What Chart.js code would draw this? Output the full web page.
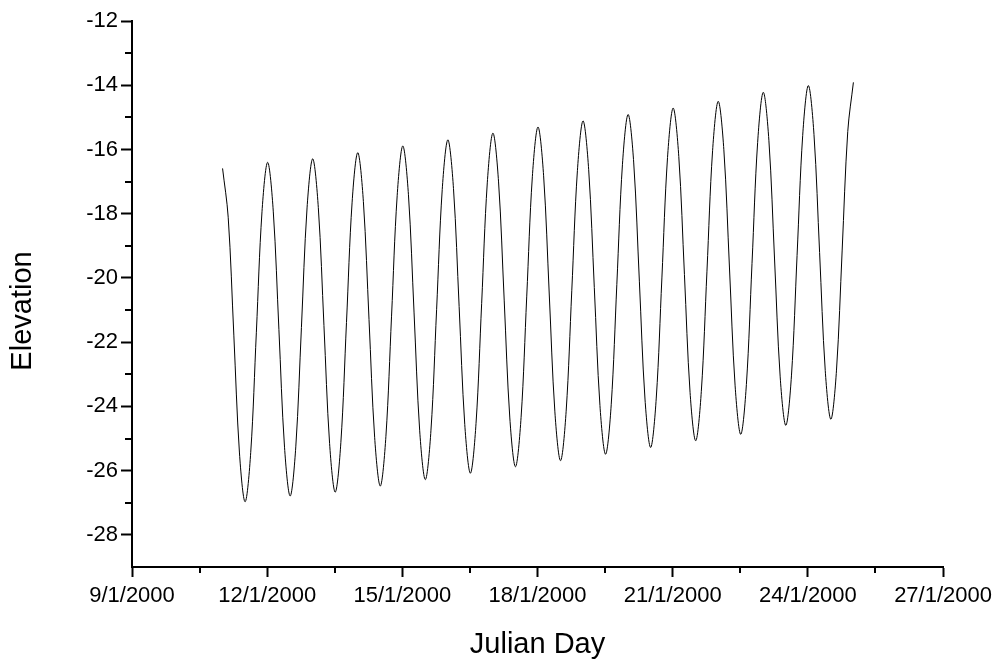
<!DOCTYPE html>
<html>
<head>
<meta charset="utf-8">
<script src="https://cdn.jsdelivr.net/npm/chart.js@4.4.0/dist/chart.umd.min.js"></script>
<style>
  html, body { margin: 0; padding: 0; background: #fff; }
  #wrap { width: 998px; height: 664px; }
</style>
</head>
<body>
<div id="wrap"><canvas id="grafico" width="998" height="664"></canvas></div>
<script>
// elevation, one row per day, every 3 hours
var firstDay = 11.01;   // day of January 2000 of the first sample
var stepDays = 0.125;
var elevation = [
  -16.59, -18.11, -21.78, -25.45, -26.97, -25.43, -21.69, -17.94,
  -16.40, -17.92, -21.60, -25.27, -26.79, -25.26, -21.54, -17.82,
  -16.29, -17.81, -21.48, -25.15, -26.67, -25.13, -21.39, -17.64,
  -16.10, -17.62, -21.29, -24.96, -26.48, -24.93, -21.19, -17.44,
  -15.89, -17.41, -21.09, -24.76, -26.28, -24.74, -20.99, -17.25,
  -15.70, -17.22, -20.89, -24.56, -26.08, -24.53, -20.79, -17.04,
  -15.49, -17.01, -20.69, -24.36, -25.88, -24.34, -20.59, -16.85,
  -15.30, -16.82, -20.50, -24.17, -25.69, -24.15, -20.40, -16.66,
  -15.11, -16.63, -20.30, -23.97, -25.49, -23.95, -20.20, -16.46,
  -14.91, -16.42, -20.10, -23.77, -25.28, -23.74, -20.00, -16.25,
  -14.71, -16.22, -19.89, -23.56, -25.07, -23.53, -19.79, -16.04,
  -14.50, -16.01, -19.69, -23.36, -24.87, -23.32, -19.55, -15.78,
  -14.22, -15.73, -19.41, -23.08, -24.59, -23.05, -19.30, -15.56,
  -14.01, -15.53, -19.21, -22.88, -24.40, -22.87, -19.16, -15.44,
  -13.91
];

// axis ticks
var xTicks = [9, 12, 15, 18, 21, 24, 27];
var xMinorTicks = [10.5, 13.5, 16.5, 19.5, 22.5, 25.5];
var yTicks = [-28, -26, -24, -22, -20, -18, -16, -14, -12];
var yMinorTicks = [-27, -25, -23, -21, -19, -17, -15, -13];

var fontFamily = '"Liberation Sans", Arial, sans-serif';

var points = elevation.map(function (v, i) {
  return { x: firstDay + i * stepDays, y: v };
});

// minor ticks + rotated y title
var axisExtras = {
  id: 'axisExtras',
  afterDraw: function (chart) {
    var ctx = chart.ctx;
    var area = chart.chartArea;
    var sx = chart.scales.x, sy = chart.scales.y;
    ctx.save();
    ctx.strokeStyle = '#000';
    ctx.lineWidth = 2;
    ctx.beginPath();
    xMinorTicks.forEach(function (d) {
      var px = Math.round(sx.getPixelForValue(d));
      ctx.moveTo(px, area.bottom);
      ctx.lineTo(px, area.bottom + 6);
    });
    yMinorTicks.forEach(function (v) {
      var py = Math.round(sy.getPixelForValue(v));
      ctx.moveTo(area.left, py);
      ctx.lineTo(area.left - 7, py);
    });
    ctx.stroke();

    ctx.translate(23, 311);
    ctx.rotate(-Math.PI / 2);
    ctx.fillStyle = '#000';
    ctx.font = '29px ' + fontFamily;
    ctx.textAlign = 'center';
    ctx.textBaseline = 'middle';
    ctx.fillText('Elevation', 0, 0);
    ctx.restore();
  }
};

var ctx = document.querySelector('#grafico').getContext('2d');
var chart = new Chart(ctx, {
  type: 'line',
  data: {
    datasets: [{
      data: points,
      borderColor: '#000',
      borderWidth: 1,
      pointRadius: 0,
      fill: false,
      tension: 0.35
    }]
  },
  options: {
    responsive: false,
    animation: false,
    layout: { padding: { left: 0, top: 21, right: 51, bottom: 0 } },
    plugins: { legend: { display: false }, tooltip: { enabled: false } },
    scales: {
      x: {
        type: 'linear',
        min: 9,
        max: 27,
        afterBuildTicks: function (scale) {
          scale.ticks = xTicks.map(function (v) { return { value: v }; });
        },
        afterFit: function (scale) { scale.height = 97; },
        ticks: {
          autoSkip: false,
          maxRotation: 0,
          padding: 6,
          color: '#000',
          font: { family: fontFamily, size: 22 },
          callback: function (v) { return v + '/1/2000'; }
        },
        grid: { drawOnChartArea: false, drawTicks: true, tickLength: 10, tickWidth: 2, tickColor: '#000' },
        border: { display: true, color: '#000', width: 2 },
        title: {
          display: true,
          text: 'Julian Day',
          color: '#000',
          font: { family: fontFamily, size: 29 },
          padding: { top: 0, bottom: 2 }
        }
      },
      y: {
        min: -29,
        max: -12,
        afterBuildTicks: function (scale) {
          scale.ticks = yTicks.map(function (v) { return { value: v }; });
        },
        afterFit: function (scale) { scale.width = 132; },
        ticks: {
          autoSkip: false,
          padding: 3,
          color: '#000',
          font: { family: fontFamily, size: 22 }
        },
        grid: { drawOnChartArea: false, drawTicks: true, tickLength: 11, tickWidth: 2, tickColor: '#000' },
        border: { display: true, color: '#000', width: 2 }
      }
    }
  },
  plugins: [axisExtras]
});
</script>
</body>
</html>
